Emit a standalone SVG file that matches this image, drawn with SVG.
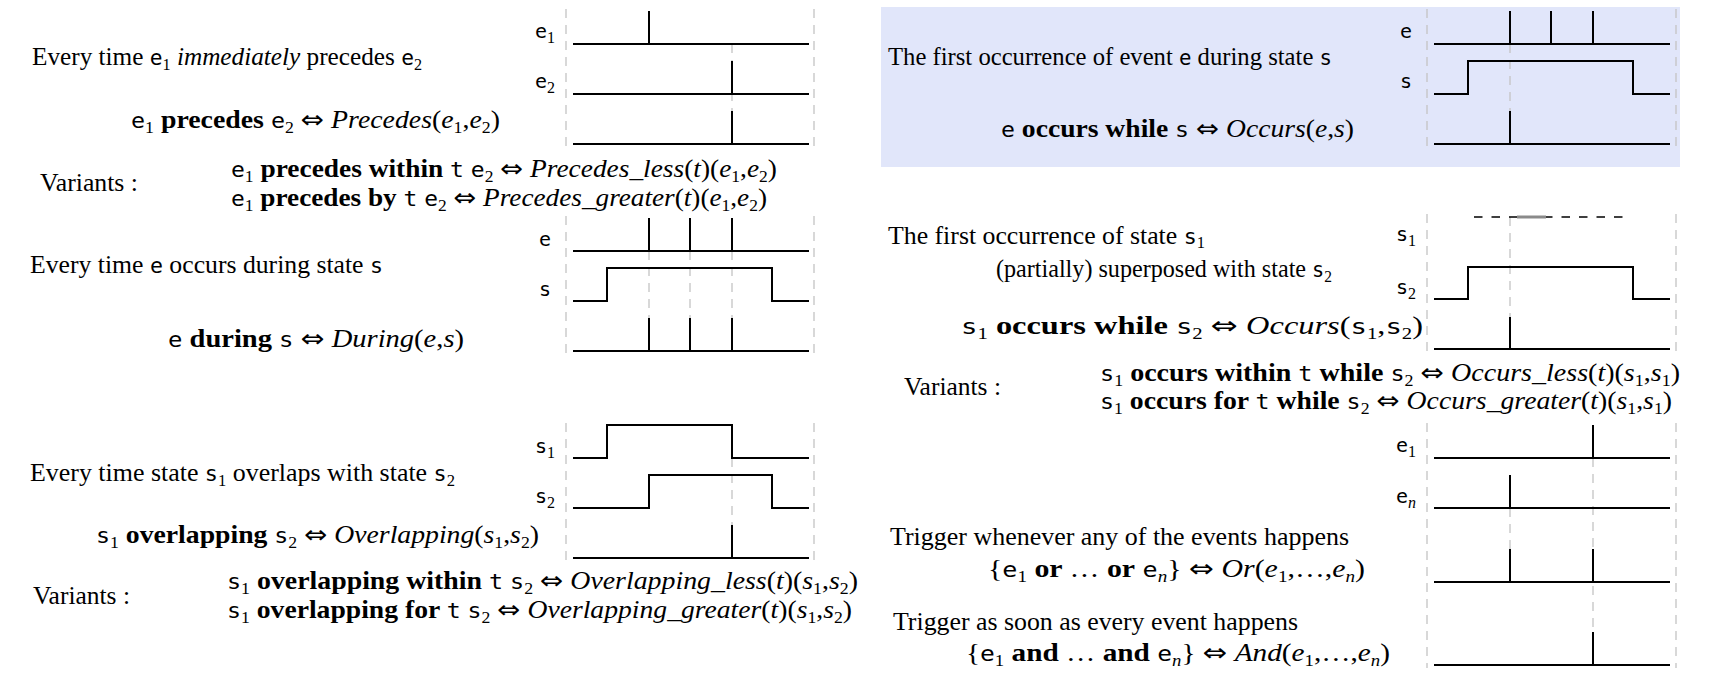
<svg xmlns="http://www.w3.org/2000/svg" width="1723" height="683" viewBox="0 0 1723 683">
<style>
.tx{font-family:"Liberation Serif","Times New Roman",serif;font-size:25px;fill:#000}
.b{font-weight:bold}
.i{font-style:italic}
.m{font-family:"DejaVu Sans Mono","Liberation Mono",monospace;font-size:21px;font-style:normal;font-weight:normal}
.sb{font-family:"Liberation Serif","Times New Roman",serif;font-size:16px;font-style:normal;font-weight:normal}
.si{font-family:"Liberation Serif","Times New Roman",serif;font-size:16px;font-style:italic;font-weight:normal}
.lb{font-family:"DejaVu Sans Mono","Liberation Mono",monospace;font-size:20px;fill:#000}
.ar{font-family:"DejaVu Sans",sans-serif;font-size:25px;font-weight:normal;font-style:normal}
.g{stroke:#c4c4c4;stroke-width:1.3;stroke-dasharray:9 7;fill:none}
.w{stroke:#000;stroke-width:2;fill:none}
</style>
<rect id="highlight" x="881" y="7" width="799" height="160" fill="#e1e6fa"/>

<g id="precedes">
<path class="g" d="M566,9V147M814,9V147M732,44V144"/>
<path class="w" d="M573,44H809M649,44V11M573,94H809M732,94V61M573,144H809M732,144V111"/>
<text class="lb" x="545" y="38" text-anchor="middle">e<tspan class="sb" dy="5">1</tspan></text>
<text class="lb" x="545" y="88" text-anchor="middle">e<tspan class="sb" dy="5">2</tspan></text>
<text class="tx" x="32" y="65" textLength="390" lengthAdjust="spacingAndGlyphs">Every time <tspan class="m">e</tspan><tspan class="sb" dy="5">1</tspan><tspan dy="-5"> </tspan><tspan class="i">immediately</tspan> precedes <tspan class="m">e</tspan><tspan class="sb" dy="5">2</tspan></text>
<text class="tx" x="131" y="128" textLength="369" lengthAdjust="spacingAndGlyphs"><tspan class="m">e</tspan><tspan class="sb" dy="5">1</tspan><tspan dy="-5" class="b"> precedes </tspan><tspan class="m">e</tspan><tspan class="sb" dy="5">2</tspan><tspan dy="-5"> </tspan><tspan class="ar">⇔</tspan> <tspan class="i">Precedes</tspan>(<tspan class="i">e</tspan><tspan class="sb" dy="5">1</tspan><tspan dy="-5">,</tspan><tspan class="i">e</tspan><tspan class="sb" dy="5">2</tspan><tspan dy="-5">)</tspan></text>
<text class="tx" x="40" y="191" textLength="98" lengthAdjust="spacingAndGlyphs">Variants :</text>
<text class="tx" x="231" y="177" textLength="546" lengthAdjust="spacingAndGlyphs"><tspan class="m">e</tspan><tspan class="sb" dy="5">1</tspan><tspan dy="-5" class="b"> precedes within </tspan><tspan class="m">t</tspan> <tspan class="m">e</tspan><tspan class="sb" dy="5">2</tspan><tspan dy="-5"> </tspan><tspan class="ar">⇔</tspan> <tspan class="i">Precedes_less</tspan>(<tspan class="i">t</tspan>)(<tspan class="i">e</tspan><tspan class="sb" dy="5">1</tspan><tspan dy="-5">,</tspan><tspan class="i">e</tspan><tspan class="sb" dy="5">2</tspan><tspan dy="-5">)</tspan></text>
<text class="tx" x="231" y="206" textLength="536" lengthAdjust="spacingAndGlyphs"><tspan class="m">e</tspan><tspan class="sb" dy="5">1</tspan><tspan dy="-5" class="b"> precedes by </tspan><tspan class="m">t</tspan> <tspan class="m">e</tspan><tspan class="sb" dy="5">2</tspan><tspan dy="-5"> </tspan><tspan class="ar">⇔</tspan> <tspan class="i">Precedes_greater</tspan>(<tspan class="i">t</tspan>)(<tspan class="i">e</tspan><tspan class="sb" dy="5">1</tspan><tspan dy="-5">,</tspan><tspan class="i">e</tspan><tspan class="sb" dy="5">2</tspan><tspan dy="-5">)</tspan></text>
</g>

<g id="during">
<path class="g" d="M566,216V354M814,216V354M649,251V351M690,251V351M732,251V351"/>
<path class="w" d="M573,251H809M649,251V218M690,251V218M732,251V218M573,301H607V268H772V301H809M573,351H809M649,351V318M690,351V318M732,351V318"/>
<text class="lb" x="545" y="246" text-anchor="middle">e</text>
<text class="lb" x="545" y="296" text-anchor="middle">s</text>
<text class="tx" x="30" y="273" textLength="353" lengthAdjust="spacingAndGlyphs">Every time <tspan class="m">e</tspan> occurs during state <tspan class="m">s</tspan></text>
<text class="tx" x="168" y="347" textLength="296" lengthAdjust="spacingAndGlyphs"><tspan class="m">e</tspan><tspan class="b"> during </tspan><tspan class="m">s</tspan> <tspan class="ar">⇔</tspan> <tspan class="i">During</tspan>(<tspan class="i">e</tspan>,<tspan class="i">s</tspan>)</text>
</g>

<g id="overlapping">
<path class="g" d="M566,423V561M814,423V561M732,458V558"/>
<path class="w" d="M573,458H607V425H732V458H809M573,508H649V475H772V508H809M573,558H809M732,558V525"/>
<text class="lb" x="545" y="453" text-anchor="middle">s<tspan class="sb" dy="5">1</tspan></text>
<text class="lb" x="545" y="503" text-anchor="middle">s<tspan class="sb" dy="5">2</tspan></text>
<text class="tx" x="30" y="481" textLength="425" lengthAdjust="spacingAndGlyphs">Every time state <tspan class="m">s</tspan><tspan class="sb" dy="5">1</tspan><tspan dy="-5"> overlaps with state </tspan><tspan class="m">s</tspan><tspan class="sb" dy="5">2</tspan></text>
<text class="tx" x="96" y="543" textLength="443" lengthAdjust="spacingAndGlyphs"><tspan class="m">s</tspan><tspan class="sb" dy="5">1</tspan><tspan dy="-5" class="b"> overlapping </tspan><tspan class="m">s</tspan><tspan class="sb" dy="5">2</tspan><tspan dy="-5"> </tspan><tspan class="ar">⇔</tspan> <tspan class="i">Overlapping</tspan>(<tspan class="i">s</tspan><tspan class="sb" dy="5">1</tspan><tspan dy="-5">,</tspan><tspan class="i">s</tspan><tspan class="sb" dy="5">2</tspan><tspan dy="-5">)</tspan></text>
<text class="tx" x="33" y="604" textLength="97" lengthAdjust="spacingAndGlyphs">Variants :</text>
<text class="tx" x="227" y="589" textLength="631" lengthAdjust="spacingAndGlyphs"><tspan class="m">s</tspan><tspan class="sb" dy="5">1</tspan><tspan dy="-5" class="b"> overlapping within </tspan><tspan class="m">t</tspan> <tspan class="m">s</tspan><tspan class="sb" dy="5">2</tspan><tspan dy="-5"> </tspan><tspan class="ar">⇔</tspan> <tspan class="i">Overlapping_less</tspan>(<tspan class="i">t</tspan>)(<tspan class="i">s</tspan><tspan class="sb" dy="5">1</tspan><tspan dy="-5">,</tspan><tspan class="i">s</tspan><tspan class="sb" dy="5">2</tspan><tspan dy="-5">)</tspan></text>
<text class="tx" x="227" y="618" textLength="625" lengthAdjust="spacingAndGlyphs"><tspan class="m">s</tspan><tspan class="sb" dy="5">1</tspan><tspan dy="-5" class="b"> overlapping for </tspan><tspan class="m">t</tspan> <tspan class="m">s</tspan><tspan class="sb" dy="5">2</tspan><tspan dy="-5"> </tspan><tspan class="ar">⇔</tspan> <tspan class="i">Overlapping_greater</tspan>(<tspan class="i">t</tspan>)(<tspan class="i">s</tspan><tspan class="sb" dy="5">1</tspan><tspan dy="-5">,</tspan><tspan class="i">s</tspan><tspan class="sb" dy="5">2</tspan><tspan dy="-5">)</tspan></text>
</g>

<g id="occurs-event">
<path class="g" d="M1427,9V147M1676,9V147M1510,44V144"/>
<path class="w" d="M1434,44H1670M1510,44V11M1551,44V11M1593,44V11M1434,94H1468V61H1633V94H1670M1434,144H1670M1510,144V111"/>
<text class="lb" x="1406" y="38" text-anchor="middle">e</text>
<text class="lb" x="1406" y="88" text-anchor="middle">s</text>
<text class="tx" x="888" y="65" textLength="444" lengthAdjust="spacingAndGlyphs">The first occurrence of event <tspan class="m">e</tspan> during state <tspan class="m">s</tspan></text>
<text class="tx" x="1001" y="137" textLength="353" lengthAdjust="spacingAndGlyphs"><tspan class="m">e</tspan><tspan class="b"> occurs while </tspan><tspan class="m">s</tspan> <tspan class="ar">⇔</tspan> <tspan class="i">Occurs</tspan>(<tspan class="i">e</tspan>,<tspan class="i">s</tspan>)</text>
</g>

<g id="occurs-state">
<path class="g" d="M1427,214V352M1676,214V352M1510,217V349"/>
<path d="M1474,217H1623" stroke="#000" stroke-width="1.5" stroke-dasharray="8.5 9" fill="none"/>
<path d="M1517,217H1546" stroke="#8a8a8a" stroke-width="3" fill="none"/>
<path class="w" d="M1434,299H1468V267H1633V299H1670M1434,349H1670M1510,349V317"/>
<text class="lb" x="1406" y="241" text-anchor="middle">s<tspan class="sb" dy="5">1</tspan></text>
<text class="lb" x="1406" y="294" text-anchor="middle">s<tspan class="sb" dy="5">2</tspan></text>
<text class="tx" x="888" y="244" textLength="317" lengthAdjust="spacingAndGlyphs">The first occurrence of state <tspan class="m">s</tspan><tspan class="sb" dy="4">1</tspan></text>
<text class="tx" x="996" y="277" textLength="336" lengthAdjust="spacingAndGlyphs">(partially) superposed with state <tspan class="m">s</tspan><tspan class="sb" dy="5">2</tspan></text>
<text class="tx" x="961" y="334" textLength="462" lengthAdjust="spacingAndGlyphs"><tspan class="m">s</tspan><tspan class="sb" dy="5">1</tspan><tspan dy="-5" class="b"> occurs while </tspan><tspan class="m">s</tspan><tspan class="sb" dy="5">2</tspan><tspan dy="-5"> </tspan><tspan class="ar">⇔</tspan> <tspan class="i">Occurs</tspan>(<tspan class="m">s</tspan><tspan class="sb" dy="5">1</tspan><tspan dy="-5">,</tspan><tspan class="m">s</tspan><tspan class="sb" dy="5">2</tspan><tspan dy="-5">)</tspan></text>
<text class="tx" x="904" y="395" textLength="97" lengthAdjust="spacingAndGlyphs">Variants :</text>
<text class="tx" x="1100" y="381" textLength="580" lengthAdjust="spacingAndGlyphs"><tspan class="m">s</tspan><tspan class="sb" dy="5">1</tspan><tspan dy="-5" class="b"> occurs within </tspan><tspan class="m">t</tspan><tspan class="b"> while </tspan><tspan class="m">s</tspan><tspan class="sb" dy="5">2</tspan><tspan dy="-5"> </tspan><tspan class="ar">⇔</tspan> <tspan class="i">Occurs_less</tspan>(<tspan class="i">t</tspan>)(<tspan class="i">s</tspan><tspan class="sb" dy="5">1</tspan><tspan dy="-5">,</tspan><tspan class="i">s</tspan><tspan class="sb" dy="5">1</tspan><tspan dy="-5">)</tspan></text>
<text class="tx" x="1100" y="409" textLength="572" lengthAdjust="spacingAndGlyphs"><tspan class="m">s</tspan><tspan class="sb" dy="5">1</tspan><tspan dy="-5" class="b"> occurs for </tspan><tspan class="m">t</tspan><tspan class="b"> while </tspan><tspan class="m">s</tspan><tspan class="sb" dy="5">2</tspan><tspan dy="-5"> </tspan><tspan class="ar">⇔</tspan> <tspan class="i">Occurs_greater</tspan>(<tspan class="i">t</tspan>)(<tspan class="i">s</tspan><tspan class="sb" dy="5">1</tspan><tspan dy="-5">,</tspan><tspan class="i">s</tspan><tspan class="sb" dy="5">1</tspan><tspan dy="-5">)</tspan></text>
</g>

<g id="or">
<path class="g" d="M1427,423V668M1676,423V668M1510,508V582M1593,458V665"/>
<path class="w" d="M1434,458H1670M1593,458V425M1434,508H1670M1510,508V475M1434,582H1670M1510,582V549M1593,582V549"/>
<text class="lb" x="1406" y="452" text-anchor="middle">e<tspan class="sb" dy="5">1</tspan></text>
<text class="lb" x="1406" y="503" text-anchor="middle">e<tspan class="si" dy="5">n</tspan></text>
<text class="tx" x="890" y="545" textLength="459" lengthAdjust="spacingAndGlyphs">Trigger whenever any of the events happens</text>
<text class="tx" x="988" y="577" textLength="377" lengthAdjust="spacingAndGlyphs">{<tspan class="m">e</tspan><tspan class="sb" dy="5">1</tspan><tspan dy="-5" class="b"> or </tspan>… <tspan class="b">or</tspan> <tspan class="m">e</tspan><tspan class="si" dy="5">n</tspan><tspan dy="-5">} </tspan><tspan class="ar">⇔</tspan> <tspan class="i">Or</tspan>(<tspan class="i">e</tspan><tspan class="sb" dy="5">1</tspan><tspan dy="-5">,…,</tspan><tspan class="i">e</tspan><tspan class="si" dy="5">n</tspan><tspan dy="-5">)</tspan></text>
</g>

<g id="and">
<path class="w" d="M1434,665H1670M1593,665V632"/>
<text class="tx" x="893" y="630" textLength="405" lengthAdjust="spacingAndGlyphs">Trigger as soon as every event happens</text>
<text class="tx" x="966" y="661" textLength="424" lengthAdjust="spacingAndGlyphs">{<tspan class="m">e</tspan><tspan class="sb" dy="5">1</tspan><tspan dy="-5" class="b"> and </tspan>… <tspan class="b">and</tspan> <tspan class="m">e</tspan><tspan class="si" dy="5">n</tspan><tspan dy="-5">} </tspan><tspan class="ar">⇔</tspan> <tspan class="i">And</tspan>(<tspan class="i">e</tspan><tspan class="sb" dy="5">1</tspan><tspan dy="-5">,…,</tspan><tspan class="i">e</tspan><tspan class="si" dy="5">n</tspan><tspan dy="-5">)</tspan></text>
</g>
</svg>
